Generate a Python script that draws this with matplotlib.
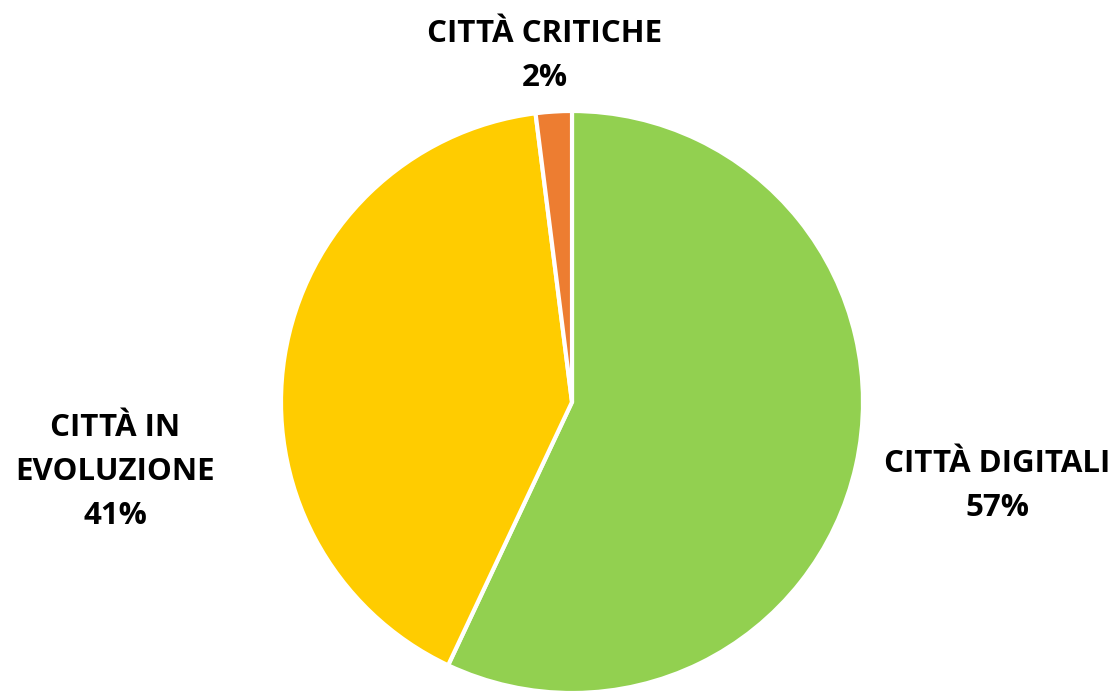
import matplotlib.pyplot as plt

# dati
categorie = ['CITTÀ DIGITALI', 'CITTÀ IN\nEVOLUZIONE', 'CITTÀ CRITICHE']
valori = [57, 41, 2]
colori = ['#92D050', '#FFCC00', '#ED7D31']

plt.rcParams['font.family'] = ['Open Sans', 'DejaVu Sans']

fig = plt.figure(figsize=(11.14, 6.91), dpi=100)
ax = fig.add_axes([0, 0, 1, 1])

# centro torta ~ (572, 402) px, raggio ~ 291 px
ax.pie(valori, colors=colori, startangle=90, counterclock=False,
       radius=291 / 290,
       wedgeprops=dict(edgecolor='white', linewidth=3))
ax.set_xlim(-572 / 290, (1114 - 572) / 290)
ax.set_ylim(-(691 - 402) / 290, 402 / 290)
ax.set_aspect('auto')
ax.axis('off')

# etichette
pos = [((997 - 572) / 290, (402 - 486) / 290),
       ((115 - 572) / 290, (402 - 472) / 290),
       ((545 - 572) / 290, (402 - 56) / 290)]
for cat, v, (x, y) in zip(categorie, valori, pos):
    ax.text(x, y, f'{cat}\n{v}%', ha='center', va='center', fontsize=22.5,
            fontweight='bold', linespacing=1.6)

plt.savefig('out.png', dpi=100)
